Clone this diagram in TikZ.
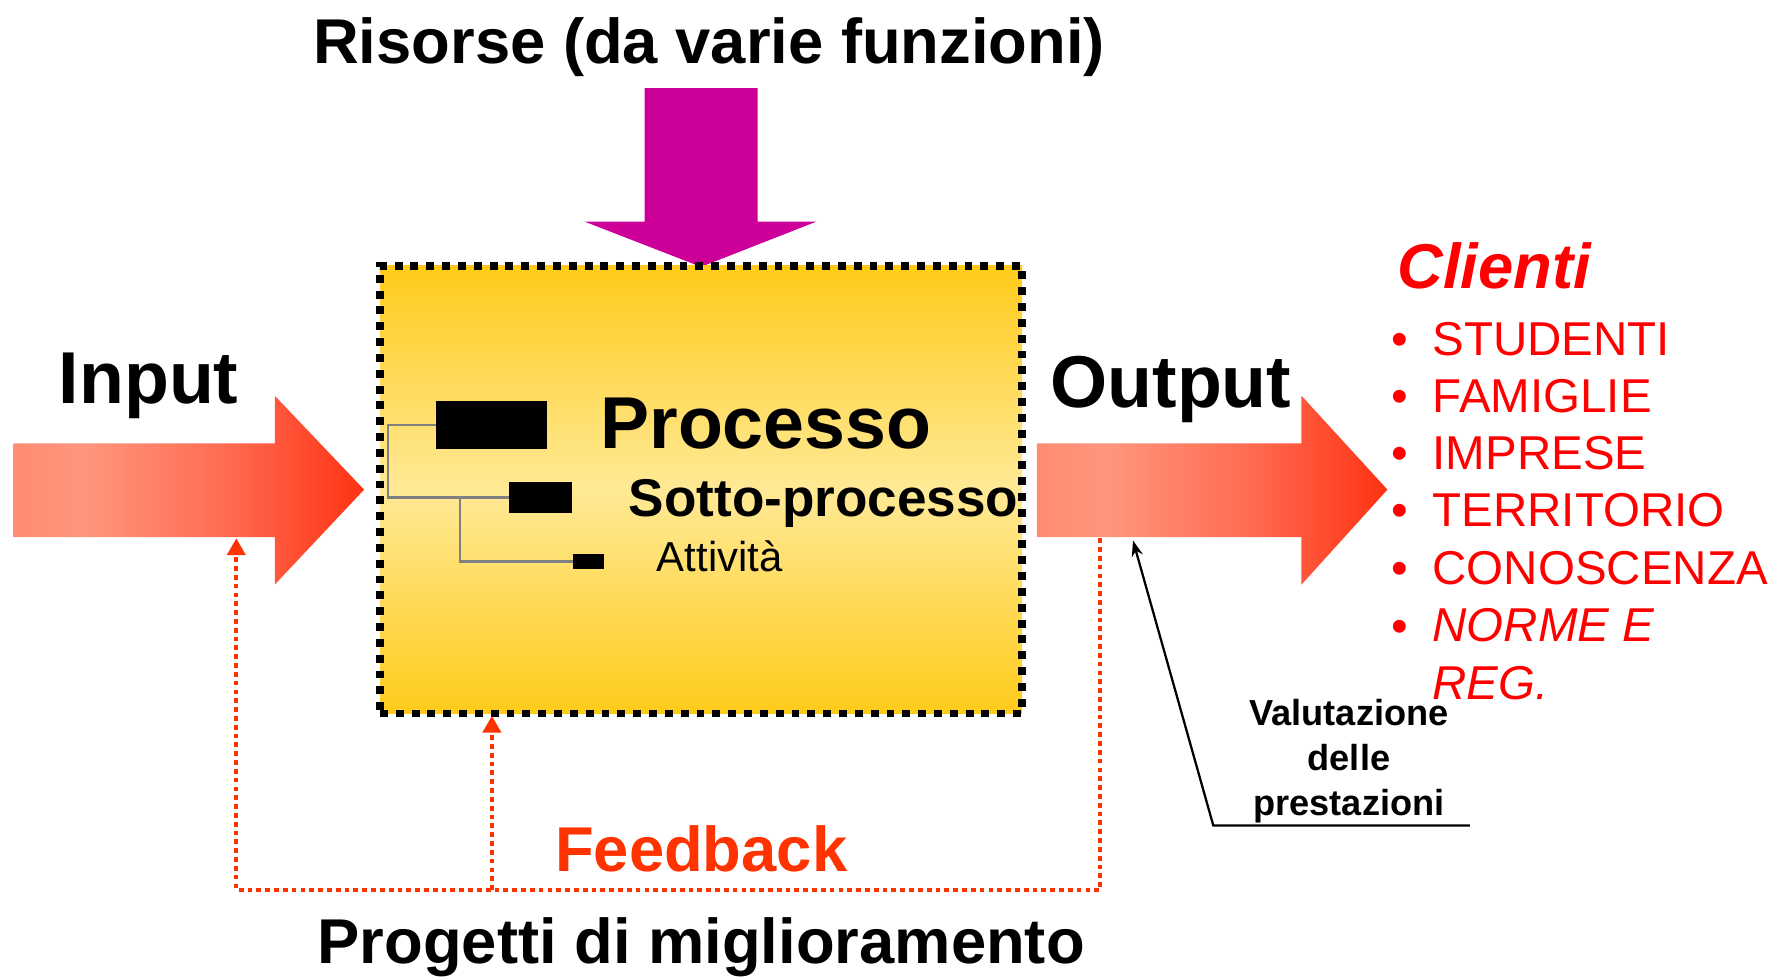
\documentclass[tikz,border=0pt]{standalone}
\usepackage{fontspec}
\setmainfont{Liberation Sans}
\usetikzlibrary{arrows.meta}
\definecolor{magentaA}{RGB}{204,0,153}
\definecolor{gold}{RGB}{255,203,26}
\definecolor{lightgold}{RGB}{255,233,150}
\definecolor{salA}{RGB}{255,140,115}
\definecolor{salB}{RGB}{255,150,125}
\definecolor{salC}{RGB}{255,108,82}
\definecolor{redor}{RGB}{255,50,20}
\definecolor{fb}{RGB}{255,51,0}
\definecolor{cred}{RGB}{255,0,0}
\definecolor{treegray}{RGB}{128,128,128}
\pgfdeclarehorizontalshading{ioshade}{100bp}{color(0bp)=(salA); color(25bp)=(salA); color(35bp)=(salB); color(55bp)=(salC); color(75bp)=(redor); color(100bp)=(redor)}
\tikzset{
  txt/.style={inner sep=0pt,outer sep=0pt,anchor=base west},
  bigbold/.style={txt,font=\fontsize{56}{67}\selectfont\bfseries},
  iobold/.style={txt,font=\fontsize{65}{78}\selectfont\bfseries},
  client/.style={txt,text=cred,font=\fontsize{42}{51}\selectfont},
  bulletnode/.style={inner sep=0pt,outer sep=0pt,anchor=base,text=cred,font=\fontsize{42}{51}\selectfont},
  blockbox/.style={fill=black,inner sep=0pt,outer sep=0pt},
  treeline/.style={treegray,line width=2.2pt},
  fbline/.style={fb,line width=3.6pt,dash pattern=on 4.2pt off 3.6pt},
  fbarrow/.style={fbline,-{Triangle[width=16pt,length=15pt]}},
  bigarrow/.style={shading=ioshade},
}
\begin{document}
\begin{tikzpicture}[x=1pt,y=-1pt]
\useasboundingbox (0,0) rectangle (1568,864);

% title
\node[bigbold] (ris) at (277,56) {Risorse (da varie funzioni)};

% resources arrow
\fill[magentaA] (570,78) -- (670,78) -- (670,196) -- (722,196) -- (620,236) -- (517,196) -- (570,196) -- cycle;

% process box
\node[draw=black,line width=7pt,dash pattern=on 7pt off 7pt,
      top color=gold,bottom color=gold,middle color=lightgold,
      minimum width=568pt,minimum height=396pt,inner sep=0pt] (box) at (620,433) {};

% hierarchy
\node[blockbox,minimum width=98pt,minimum height=42pt] (p1) at (435,376) {};
\node[blockbox,minimum width=56pt,minimum height=28pt] (p2) at (478,440) {};
\node[blockbox,minimum width=27pt,minimum height=13pt] (p3) at (520.5,496.5) {};
\coordinate (t1) at (343,376);
\coordinate (t2) at (343,440);
\coordinate (t3) at (407,440);
\coordinate (t4) at (407,496.5);
\draw[treeline] (p1.west) -- (t1) -- (t2) -- (p2.west);
\draw[treeline] (t3) -- (t4) -- (p3.west);

\node[txt,font=\fontsize{65}{78}\selectfont\bfseries] (proc) at (531,397) {Processo};
\node[txt,font=\fontsize{47}{56}\selectfont\bfseries] (sotto) at (556,457) {Sotto-processo};
\node[txt,font=\fontsize{37}{44}\selectfont] (att) at (581,505) {Attività};

% input / output arrows
\shade[bigarrow] (12,392) -- (243,392) -- (243,350) -- (322,433) -- (243,517) -- (243,475) -- (12,475) -- cycle;
\shade[bigarrow] (917,392) -- (1151,392) -- (1151,350) -- (1227,433) -- (1151,517) -- (1151,475) -- (917,475) -- cycle;
\node[iobold] (inp) at (52,357) {Input};
\node[iobold] (outp) at (929,360) {Output};

% clients
\node[txt,text=cred,font=\fontsize{56}{67}\selectfont\bfseries\itshape] (cli) at (1236,255) {Clienti};
\foreach \y/\t [count=\i] in {314/STUDENTI,365/FAMIGLIE,415/IMPRESE,466/TERRITORIO,517/CONOSCENZA}{
  \node[bulletnode] (b\i) at (1238,\y) {•};
  \node[client] (c\i) at (1267,\y) {\t};
}
\node[bulletnode] (b6) at (1238,568) {•};
\node[client,anchor=north west,align=left,font=\fontsize{42}{51}\selectfont\itshape] (c6) at (1267,538) {NORME E\\REG.};

% evaluation
\node[inner sep=0pt,outer sep=0pt,anchor=north,align=center,font=\fontsize{32}{40}\selectfont\bfseries] (val) at (1193,618) {Valutazione\\delle\\prestazioni};
\coordinate (v1) at (1300,730);
\coordinate (v2) at (1073,730);
\coordinate (v3) at (1002,478);
\draw[line width=2pt,-{Stealth[length=14pt,width=10pt]}] (v1) -- (v2) -- (v3);

% feedback loop
\coordinate (fA) at (973,476);
\coordinate (fB) at (973,787);
\coordinate (fC) at (209,787);
\coordinate (fD) at (209,476);
\coordinate (fE) at (435,787);
\coordinate (fF) at (435,633);
\draw[fbarrow] (fA) -- (fB) -- (fC) -- (fD);
\draw[fbarrow] (fE) -- (fF);

\node[bigbold,text=fb] (feed) at (491,771) {Feedback};
\node[bigbold] (prog) at (281,852) {Progetti di miglioramento};
\end{tikzpicture}
\end{document}
